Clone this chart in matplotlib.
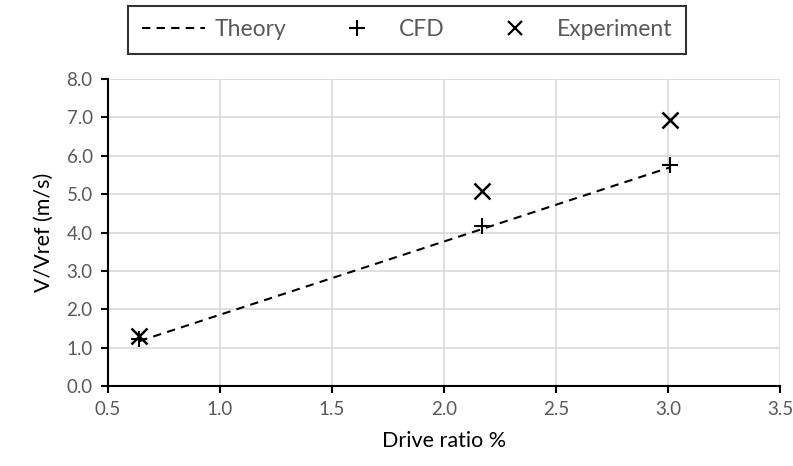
import matplotlib
matplotlib.use("Agg")
import matplotlib.pyplot as plt
from matplotlib.lines import Line2D

plt.rcParams['font.family'] = ['Lato', 'DejaVu Sans']

drive_ratio = [0.64, 2.17, 3.01]
theory = [1.17, 4.09, 5.70]
cfd = [1.22, 4.18, 5.75]
experiment = [1.30, 5.07, 6.93]

xticks = [0.5, 1.0, 1.5, 2.0, 2.5, 3.0, 3.5]
yticks = [0.0, 1.0, 2.0, 3.0, 4.0, 5.0, 6.0, 7.0, 8.0]

fig = plt.figure(figsize=(7.93, 4.66), dpi=100)
ax = fig.add_axes([108/793, 80/466, (780-108)/793, (386-79)/466])

ax.plot(drive_ratio, theory, linestyle=(0, (4, 3)), color='black', lw=1.5, label='Theory', zorder=3)
ax.plot(drive_ratio, cfd, linestyle='none', marker='+', ms=12, mew=1.5, color='black', label='CFD', zorder=4)
ax.plot(drive_ratio, experiment, linestyle='none', marker='x', ms=11, mew=1.8, color='black', label='Experiment', zorder=4)

ax.set_xlim(0.5, 3.5)
ax.set_ylim(0, 8)
ax.set_xticks(xticks)
ax.set_yticks(yticks)
ax.set_xticklabels([f"{v:.1f}" for v in xticks])
ax.set_yticklabels([f"{v:.1f}" for v in yticks])
ax.grid(True, color='#d9d9d9', lw=1.2, zorder=0)
ax.set_axisbelow(True)
for s in ['top', 'right']:
    ax.spines[s].set_visible(False)
for s in ['left', 'bottom']:
    ax.spines[s].set_linewidth(1.5)
    ax.spines[s].set_color('black')
ax.tick_params(axis='both', direction='out', length=5, width=1.5, color='black',
               labelsize=13.5, labelcolor='#595959', pad=6)

ax.set_xlabel('Drive ratio %', fontsize=15.5, color='black', labelpad=9)
ax.set_ylabel('V/Vref (m/s)', fontsize=15.5, color='black', labelpad=9)

handles = [
    Line2D([], [], linestyle=(0, (4, 3)), color='black', lw=1.5),
    Line2D([], [], linestyle='none', marker='+', ms=11, mew=1.5, color='black'),
    Line2D([], [], linestyle='none', marker='x', ms=10, mew=1.6, color='black'),
]
leg = fig.legend(handles, ['Theory', 'CFD', 'Experiment'], loc='center',
                 bbox_to_anchor=(407/793, 1 - 30/466), ncol=3, fontsize=16.5,
                 frameon=True, fancybox=False, edgecolor='black', handlelength=2.75,
                 handletextpad=0.45, columnspacing=1.7, borderpad=0.6,
                 borderaxespad=0, labelcolor='#595959')
leg.get_frame().set_linewidth(1.5)

fig.savefig('out.png', dpi=100)
